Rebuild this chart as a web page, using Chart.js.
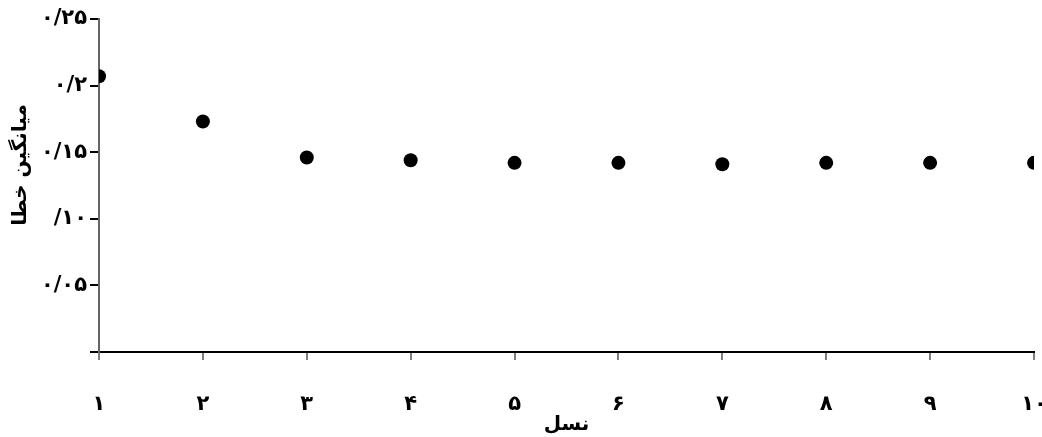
<!DOCTYPE html>
<html><head><meta charset="utf-8">
<script src="https://cdn.jsdelivr.net/npm/chart.js@4/dist/chart.umd.min.js"></script>
<style>html,body{margin:0;padding:0;background:#fff}#wrap{width:1042px;height:437px;position:relative}</style>
</head><body><div id="wrap"><canvas id="c"></canvas></div>
<script>
const generations = [1,2,3,4,5,6,7,8,9,10];
const meanError = [0.207,0.173,0.146,0.144,0.142,0.142,0.141,0.142,0.142,0.142];
const xTickLabels = ['۱','۲','۳','۴','۵','۶','۷','۸','۹','۱۰'];
const yTickLabels = {0.05:'۰/۰۵',0.1:'/۱۰',0.15:'۰/۱۵',0.2:'۰/۲',0.25:'۰/۲۵'};
const xTitle = 'نسل';
const yTitle = 'میانگین خطا';
const FONT = '"DejaVu Sans", sans-serif';

const titlePlugin = {
  id:'titles',
  afterDraw(chart){
    const ctx = chart.ctx, a = chart.chartArea;
    ctx.save();
    ctx.fillStyle='#000';
    ctx.font = 'bold 20px ' + FONT;
    ctx.textAlign='center'; ctx.textBaseline='middle';
    ctx.fillText(xTitle, (a.left+a.right)/2, 425);
    ctx.translate(21, 165);
    ctx.rotate(-Math.PI/2);
    ctx.fillText(yTitle, 0, 0);
    ctx.restore();
  }
};

new Chart(document.getElementById('c'), {
  type:'scatter',
  data:{datasets:[{
    data: generations.map((g,i)=>({x:g,y:meanError[i]})),
    backgroundColor:'#000', borderWidth:0, pointRadius:7, pointHoverRadius:7
  }]},
  options:{
    responsive:true, maintainAspectRatio:false, animation:false,
    layout:{padding:{top:19,right:8,left:0,bottom:0}},
    plugins:{legend:{display:false},tooltip:{enabled:false}},
    scales:{
      x:{type:'linear',min:1,max:10,
        afterFit(s){s.height=85;s.paddingLeft=0;s.paddingRight=0;},
        border:{color:'#000',width:2},
        grid:{drawOnChartArea:false,tickLength:8,color:'#808080',lineWidth:2},
        ticks:{stepSize:1,padding:32,color:'#000',font:{family:FONT,size:21,weight:'bold'},
          maxRotation:0,autoSkip:false,
          callback:(v)=>xTickLabels[generations.indexOf(v)] ?? ''}
      },
      y:{type:'linear',min:0,max:0.25,
        afterFit(s){s.width=99;s.paddingTop=0;s.paddingBottom=0;},
        border:{color:'#666',width:2},
        grid:{drawOnChartArea:false,tickLength:9,color:'#000',lineWidth:2},
        ticks:{stepSize:0.05,padding:3,color:'#000',font:{family:FONT,size:21,weight:'bold'},
          callback:(v)=>{const k=Math.round(v*100)/100;return yTickLabels[k] ?? '';}}
      }
    }
  },
  plugins:[titlePlugin]
});
</script></body></html>
